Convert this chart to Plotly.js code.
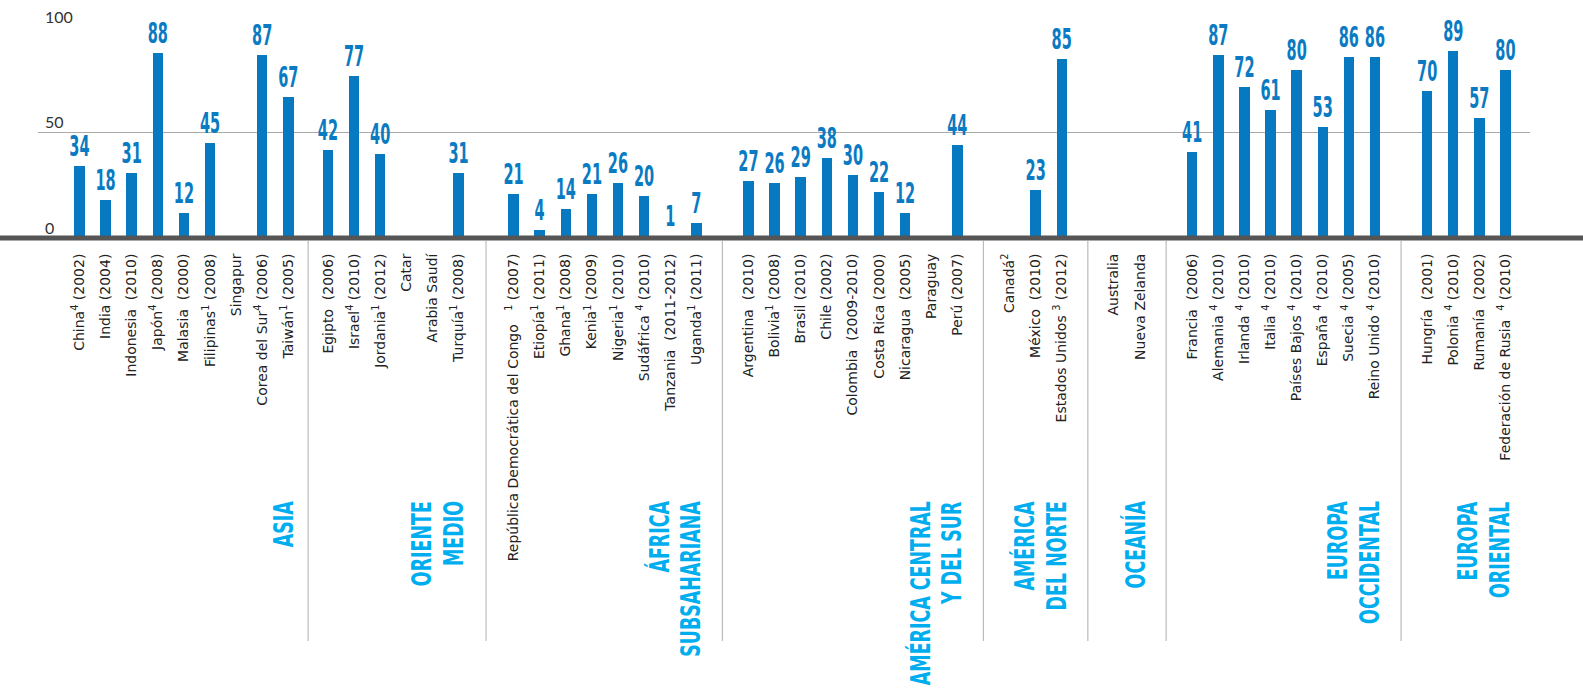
<!DOCTYPE html>
<html>
<head>
<meta charset="utf-8">
<script src="https://cdn.plot.ly/plotly-3.0.1.min.js"></script>
<style>
  html, body { margin: 0; padding: 0; background: #ffffff; }
  #chart { width: 1583px; height: 698px; }
</style>
</head>
<body>
<div id="chart"></div>
<script>
// ---------- DATA ----------
const countries = [
  // Asia
  "China<sup>4</sup> (2002)", "India (2004)", "Indonesia\u00a0 (2010)", "Japón<sup>4</sup> (2008)",
  "Malasia\u00a0 (2000)", "Filipinas<sup>1</sup> (2008)", "Singapur", "Corea del Sur<sup>4</sup> (2006)",
  "Taiwán<sup>1</sup> (2005)",
  // Oriente Medio
  "Egipto\u00a0 (2006)", "Israel<sup>4</sup> (2010)", "Jordania<sup>1</sup> (2012)", "Catar",
  "Arabia Saudí", "Turquía<sup>1</sup> (2008)",
  // África Subsahariana
  "República Democrática del Congo\u00a0\u00a0 <sup>1</sup> (2007)", "Etiopía<sup>1</sup> (2011)",
  "Ghana<sup>1</sup> (2008)", "Kenia<sup>1</sup> (2009)", "Nigeria<sup>1</sup> (2010)",
  "Sudáfrica <sup>4</sup> (2010)", "Tanzania\u00a0 (2011-2012)", "Uganda<sup>1</sup> (2011)",
  // América Central y del Sur
  "Argentina\u00a0 (2010)", "Bolivia<sup>1</sup> (2008)", "Brasil (2010)", "Chile (2002)",
  "Colombia\u00a0 (2009-2010)", "Costa Rica (2000)", "Nicaragua\u00a0 (2005)", "Paraguay", "Perú (2007)",
  // América del Norte
  "Canadá<sup>2</sup>", "México\u00a0 (2010)", "Estados Unidos <sup>3</sup> (2012)",
  // Oceanía
  "Australia", "Nueva Zelanda",
  // Europa Occidental
  "Francia\u00a0 (2006)", "Alemania <sup>4</sup> (2010)", "Irlanda <sup>4</sup> (2010)",
  "Italia <sup>4</sup> (2010)", "Países Bajos <sup>4</sup> (2010)", "España <sup>4</sup> (2010)",
  "Suecia <sup>4</sup> (2005)", "Reino Unido <sup>4</sup> (2010)",
  // Europa Oriental
  "Hungría\u00a0 (2001)", "Polonia <sup>4</sup> (2010)", "Rumanía\u00a0 (2002)",
  "Federación de Rusia\u00a0 <sup>4</sup> (2010)"
];

const values = [
  34, 18, 31, 88, 12, 45, null, 87, 67,
  42, 77, 40, null, null, 31,
  21, 4, 14, 21, 26, 20, 1, 7,
  27, 26, 29, 38, 30, 22, 12, null, 44,
  null, 23, 85,
  null, null,
  41, 87, 72, 61, 80, 53, 86, 86,
  70, 89, 57, 80
];

const regions = [
  "ASIA", "ORIENTE<br>MEDIO", "ÁFRICA<br>SUBSAHARIANA", "AMÉRICA CENTRAL<br>Y DEL SUR",
  "AMÉRICA<br>DEL NORTE", "OCEANÍA", "EUROPA<br>OCCIDENTAL", "EUROPA<br>ORIENTAL"
];
const regionSizes = [9, 6, 8, 9, 3, 2, 8, 4];

const yTickVals = [0, 50, 100];
const yTickText = ["0", "50", "100"];

// ---------- LAYOUT HELPERS ----------
// spacing (in category steps) between the last country of a region and the first of the next
const regionGaps = [1.52, 2.11, 2, 2, 2, 2, 2];

const xPos = [];
const regionLast = [];
const regionFirst = [];
let p = 0;
regionSizes.forEach((n, g) => {
  regionFirst.push(p);
  for (let i = 0; i < n; i++) { xPos.push(p); p += 1; }
  regionLast.push(p - 1);
  p += (g < regionGaps.length ? regionGaps[g] : 1) - 1;
});

const dividers = regionLast.map((last, g) =>
  g < regionLast.length - 1 ? (last + regionFirst[g + 1]) / 2 : last + 1
);

const condFont = "DejaVu Sans, sans-serif";
const labelFont = "DejaVu Sans, sans-serif";
const axisFont = "Lato, Open Sans, sans-serif";

const shapes = [];
// thick baseline across full width
shapes.push({
  type: "line", xref: "paper", yref: "paper",
  x0: -0.03, x1: 1.04, y0: 0, y1: 0,
  line: { color: "#555555", width: 5 }, layer: "above"
});
// region dividers below axis
dividers.forEach(d => {
  shapes.push({
    type: "line", xref: "x", yref: "paper", ysizemode: "pixel", yanchor: 0,
    x0: d, x1: d, y0: -3, y1: -403,
    line: { color: "#bbbbbb", width: 1.2 }, layer: "below"
  });
});

const annotations = [];
yTickVals.forEach((v, i) => {
  annotations.push({
    xref: "paper", yref: "y", x: 0.0035, y: v, xanchor: "left", yanchor: "middle",
    yshift: 11, showarrow: false, text: yTickText[i],
    font: { family: axisFont, size: 16, color: "#333333" }
  });
});
const nAxisAnn = annotations.length;
const linePitch = 32;
regions.forEach((r, g) => {
  const lines = r.split("<br>");
  const n = lines.length;
  lines.forEach((ln, k) => {
    annotations.push({
      xref: "x", yref: "paper", x: regionLast[g], y: 0,
      xanchor: "center", yanchor: "top",
      xshift: -5 - (n - 1 - k) * linePitch, yshift: -261,
      textangle: -90, align: "right", showarrow: false, text: ln,
      font: { family: condFont, size: 26, weight: 700, color: "#00AEEF" }
    });
  });
});

const trace = {
  type: "bar",
  x: xPos,
  y: values,
  width: 0.4,
  marker: { color: "#0679C1", line: { width: 0 } },
  text: values.map(v => v === null ? "" : String(v)),
  textposition: "outside",
  constraintext: "none",
  cliponaxis: false,
  textfont: { family: condFont, size: 28, weight: 700, color: "#0A7BC2" },
  hoverinfo: "none"
};

const layout = {
  width: 1583, height: 698,
  margin: { l: 38, r: 53, t: 10, b: 460 },
  paper_bgcolor: "#ffffff", plot_bgcolor: "#ffffff",
  showlegend: false,
  xaxis: {
    type: "linear", range: [-1.59, 55.57],
    tickmode: "array", tickvals: xPos, ticktext: countries,
    tickangle: -90, ticks: "outside", ticklen: 9, tickcolor: "rgba(0,0,0,0)",
    showgrid: false, zeroline: false, showline: false,
    tickfont: { family: labelFont, size: 14, weight: 400, color: "#222222" },
    fixedrange: true
  },
  yaxis: {
    range: [0, 108.4], tickmode: "array", tickvals: [50], showticklabels: false,
    showgrid: true, gridcolor: "#aaaaaa", gridwidth: 1, zeroline: false, showline: false,
    fixedrange: true
  },
  shapes: shapes,
  annotations: annotations,
  bargap: 0
};

// condense bold display text horizontally (the original uses a condensed typeface)
function squeeze(nodes, k) {
  nodes.forEach(t => {
    const w = t.getComputedTextLength();
    if (w > 0) {
      t.setAttribute("lengthAdjust", "spacingAndGlyphs");
      t.setAttribute("textLength", (w * k).toFixed(2));
    }
  });
}

Plotly.newPlot("chart", [trace], layout, { staticPlot: true, displayModeBar: false }).then(gd => {
  squeeze(gd.querySelectorAll("text.bartext"), 0.52);
  const regionTexts = [];
  gd.querySelectorAll(".annotation").forEach(a => {
    const idx = +a.getAttribute("data-index");
    if (idx >= nAxisAnn) {
      const t = a.querySelector("text.annotation-text");
      if (t) regionTexts.push(t);
    }
  });
  squeeze(regionTexts, 0.67);
});
</script>
</body>
</html>
